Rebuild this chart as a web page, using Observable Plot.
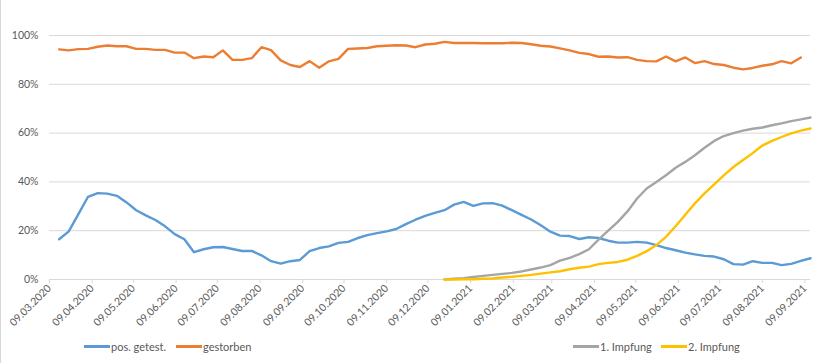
<!DOCTYPE html>
<html>
<head>
<meta charset="utf-8">
<script src="https://cdn.jsdelivr.net/npm/d3@7"></script>
<script src="https://cdn.jsdelivr.net/npm/@observablehq/plot@0.6"></script>
<style>
  html, body { margin: 0; padding: 0; background: #fff; }
  #chart { position: relative; width: 830px; height: 363px; overflow: hidden; border-left: 1px solid #d9d9d9; box-sizing: border-box; font-family: Lato, "Open Sans", sans-serif; }
  #plot { position: absolute; left: -1px; top: 0; }
  .lg { position: absolute; top: 340px; display: flex; align-items: center; font-size: 11px; color: #595959; white-space: nowrap; }
  .lg span.sw { display: inline-block; width: 26px; height: 3px; margin-right: 1px; }
</style>
</head>
<body>
<div id="chart"><div id="plot"></div></div>
<script>
// ---- data (values in %) ----
const weekStart = "2020-03-16";          // first weekly data point
const vaccStart = "2020-12-21";          // first weekly point of vaccination series
const posGetestet = [16.5,19.7,26.8,33.9,35.4,35.2,34.3,31.6,28.4,26.3,24.4,21.8,18.6,16.5,11.2,12.4,13.2,13.3,12.5,11.7,11.7,9.9,7.5,6.5,7.5,8.0,11.6,12.9,13.6,15.0,15.4,17.0,18.2,19.0,19.7,20.7,22.7,24.5,26.1,27.3,28.4,30.7,31.8,30.2,31.2,31.3,30.3,28.4,26.5,24.6,22.2,19.6,18.0,17.8,16.6,17.3,17.0,15.9,15.1,15.1,15.4,15.1,14.1,12.9,12.0,11.0,10.3,9.7,9.4,8.3,6.3,6.1,7.5,6.8,6.8,5.9,6.4,7.6,8.7];
const gestorben = [94.3,93.9,94.4,94.5,95.4,95.9,95.6,95.6,94.5,94.5,94.1,94.1,93.0,93.0,90.7,91.4,91.1,93.9,90.0,90.0,90.7,95.2,94.0,89.8,87.9,87.1,89.5,86.8,89.4,90.4,94.5,94.7,94.9,95.6,95.8,96.0,95.9,95.2,96.3,96.6,97.4,96.9,96.9,96.9,96.8,96.8,96.8,97.0,96.9,96.4,95.8,95.5,94.7,93.9,92.9,92.4,91.3,91.4,91.0,91.1,90.0,89.5,89.4,91.4,89.4,91.0,88.7,89.5,88.3,87.9,86.8,86.1,86.7,87.6,88.2,89.5,88.6,91.0];
const impfung1 = [0,0.3,0.5,1.0,1.5,1.9,2.3,2.7,3.3,4.1,4.9,5.9,7.7,8.9,10.4,12.4,16.3,20.0,23.6,27.9,33.2,37.3,40.0,42.7,45.8,48.2,50.9,54.0,56.8,58.8,60.0,61.0,61.8,62.3,63.2,64.0,64.9,65.6,66.4];
const impfung2 = [0,0,0.1,0.1,0.3,0.4,0.8,1.1,1.5,1.9,2.4,2.9,3.4,4.2,4.8,5.3,6.3,6.8,7.2,8.1,9.7,11.6,14.1,17.5,21.8,26.5,31.2,35.3,39.0,42.7,46.1,49.0,51.8,54.9,56.8,58.4,59.9,61.0,61.9];
const seriesNames = ["pos. getest.", "gestorben", "1. Impfung", "2. Impfung"];
const seriesColors = ["#5B9BD5", "#ED7D31", "#A5A5A5", "#FFC000"];
const xTickLabels = ["09.03.2020","09.04.2020","09.05.2020","09.06.2020","09.07.2020","09.08.2020","09.09.2020","09.10.2020","09.11.2020","09.12.2020","09.01.2021","09.02.2021","09.03.2021","09.04.2021","09.05.2021","09.06.2021","09.07.2021","09.08.2021","09.09.2021"];
const yTicks = [0, 20, 40, 60, 80, 100];
const xDomain = ["2020-03-09", "2021-09-13"];

// ---- build table ----
const parseISO = d3.utcParse("%Y-%m-%d");
const parseDE = d3.utcParse("%d.%m.%Y");
const fmtDE = d3.utcFormat("%d.%m.%Y");
function toRows(values, start, name) {
  const s = parseISO(start);
  return values.map((v, i) => ({date: d3.utcDay.offset(s, 7 * i), value: v, series: name}));
}
const rows = [
  ...toRows(posGetestet, weekStart, seriesNames[0]),
  ...toRows(gestorben, weekStart, seriesNames[1]),
  ...toRows(impfung1, vaccStart, seriesNames[2]),
  ...toRows(impfung2, vaccStart, seriesNames[3])
];
const xTicks = xTickLabels.map(parseDE);

const chart = Plot.plot({
  width: 830,
  height: 330,
  marginLeft: 49,
  marginRight: 20,
  marginTop: 35,
  marginBottom: 51,
  style: {fontFamily: "Lato, 'Open Sans', sans-serif", fontSize: "10.5px", color: "#595959", background: "#fff"},
  x: {type: "utc", domain: xDomain.map(parseISO), label: null},
  y: {domain: [0, 100], label: null},
  color: {domain: seriesNames, range: seriesColors},
  marks: [
    Plot.ruleY(yTicks, {stroke: "#d9d9d9", strokeWidth: 1}),
    Plot.axisY({ticks: yTicks, tickFormat: d => d + "%", tickSize: 0, tickPadding: 11, fill: "#595959", fontSize: 10.5, label: null}),
    Plot.axisX({ticks: xTicks, tickFormat: fmtDE, tickSize: 4, stroke: "#d9d9d9", tickRotate: -45, tickPadding: 3, fill: "#595959", fontSize: 10.5, label: null}),
    Plot.line(rows, {x: "date", y: "value", z: "series", stroke: "series", strokeWidth: 2.4, curve: "linear"})
  ]
});
document.getElementById("plot").appendChild(chart);

// ---- legend ----
const legendPos = [83, 175, 572, 660];
const chartDiv = document.getElementById("chart");
seriesNames.forEach((name, i) => {
  const item = document.createElement("div");
  item.className = "lg";
  item.style.left = legendPos[i] + "px";
  const sw = document.createElement("span");
  sw.className = "sw";
  sw.style.background = seriesColors[i];
  item.appendChild(sw);
  item.appendChild(document.createTextNode(name));
  chartDiv.appendChild(item);
});
</script>
</body>
</html>
